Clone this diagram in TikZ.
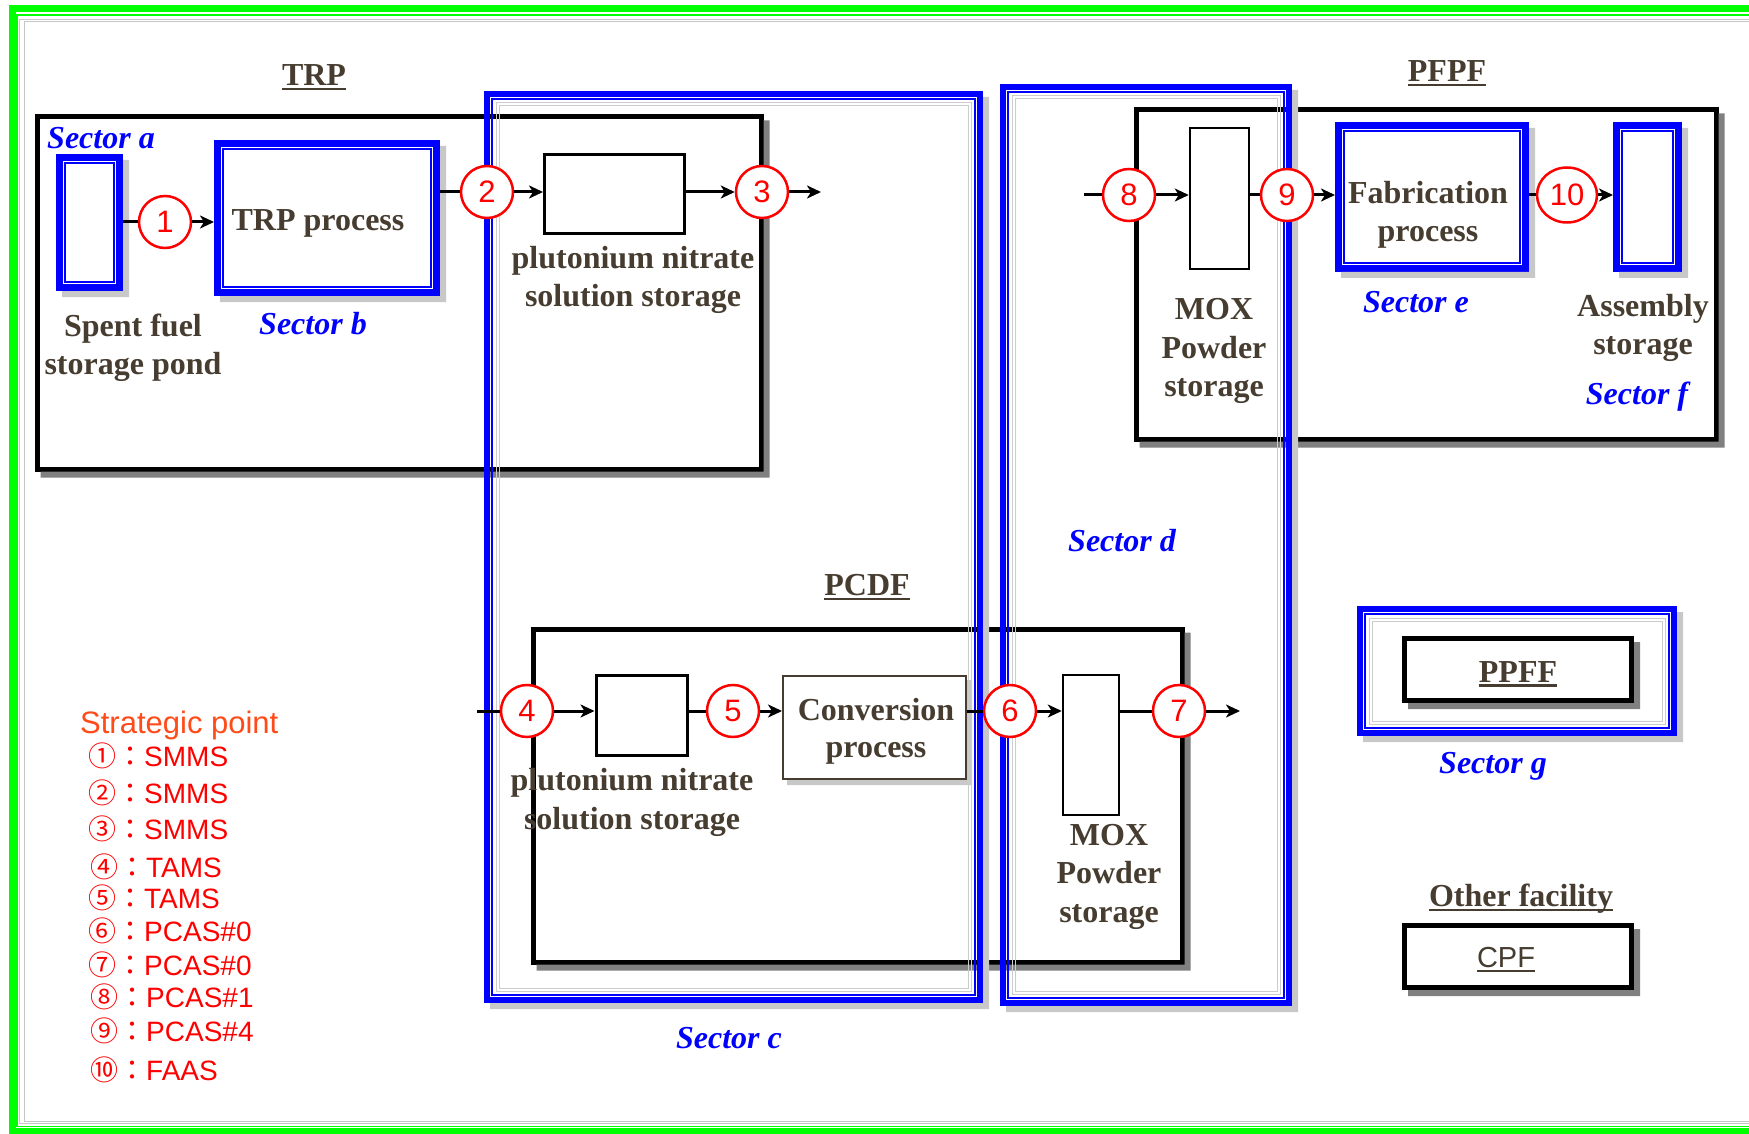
\documentclass[tikz,border=0pt]{standalone}
\usepackage{fontspec}
\setmainfont{Liberation Serif}
\newfontfamily\sansf{Liberation Sans}
\newfontfamily\cjk{Noto Sans CJK JP}
\usetikzlibrary{arrows.meta,shapes.geometric}
\definecolor{tbrown}{RGB}{70,60,48}
\definecolor{sblue}{RGB}{0,0,255}
\definecolor{fgreen}{RGB}{0,255,0}
\definecolor{sorange}{RGB}{255,75,25}
\definecolor{lred}{RGB}{255,0,0}
\definecolor{shdark}{RGB}{128,128,128}
\definecolor{shlight}{RGB}{200,200,200}
\newcommand{\ulx}[1]{\leavevmode\setbox0=\hbox{#1}\rlap{\rule[-0.15em]{\wd0}{0.075em}}\box0}
\newcommand{\shadowof}[3]{%
  \fill[#2] ([yshift=-#3]#1.north east) -- ([xshift=#3,yshift=-#3]#1.north east)
    -- ([xshift=#3,yshift=-#3]#1.south east) -- ([xshift=#3,yshift=-#3]#1.south west)
    -- ([xshift=#3]#1.south west) -- (#1.south east) -- cycle;}
\begin{document}
\begin{tikzpicture}[x=1pt,y=-1pt,
  every node/.style={inner sep=0pt},
  lab/.style={font=\fontsize{32}{38.5}\selectfont\bfseries, text=tbrown, align=center},
  sec/.style={font=\fontsize{32}{38}\selectfont\bfseries\itshape, text=sblue},
  blackbox/.style={draw=black, line width=5pt, fill=white},
  storebox/.style={draw=black, line width=2.5pt, fill=white},
  bluebox/.style={draw=sblue, line width=7pt, fill=white,
    path picture={\draw[sblue,line width=1.8pt]
      ([xshift=5.5pt,yshift=-5.5pt]path picture bounding box.north west) rectangle
      ([xshift=-5.5pt,yshift=5.5pt]path picture bounding box.south east);}},
  sectorframe/.style={draw=sblue, line width=6pt,
    path picture={
      \draw[sblue,line width=1.6pt]
        ([xshift=5pt,yshift=-5pt]path picture bounding box.north west) rectangle
        ([xshift=-5pt,yshift=5pt]path picture bounding box.south east);
      \draw[gray!40,line width=1pt]
        ([xshift=9pt,yshift=-9pt]path picture bounding box.north west) rectangle
        ([xshift=-9pt,yshift=9pt]path picture bounding box.south east);
      \draw[gray!40,line width=1pt]
        ([xshift=12pt,yshift=-12pt]path picture bounding box.north west) rectangle
        ([xshift=-12pt,yshift=12pt]path picture bounding box.south east);}},
  spt/.style={circle, draw=lred, line width=2.5pt, fill=white, minimum size=52pt,
    font=\sansf\fontsize{31}{31}\selectfont, text=lred},
  flow/.style={draw=black, line width=3pt},
  arr/.style={flow, -{Stealth[length=14pt,width=13pt,inset=4pt]}},
  leg/.style={anchor=west, text=lred, font=\sansf\fontsize{28}{28}\selectfont}
]
\useasboundingbox (0,0) rectangle (1749,1134);
\fill[white] (0,0) rectangle (1749,1134);

% outer green frame
\begin{scope}
\clip (0,0) rectangle (1749,1134);
\draw[fgreen, line width=7pt] (12.5,8.5) rectangle (1775,1131.5);
\draw[fgreen, line width=1.5pt] (17,15) rectangle (1765,1126.5);
\draw[gray!45, line width=1pt] (19.5,19.5) rectangle (1765,1123);
\draw[gray!45, line width=1pt] (24.5,22) rectangle (1765,1121);
\end{scope}

% facility boxes
\node[blackbox, minimum width=724pt, minimum height=352pt] (trp) at (399,293) {};
\shadowof{trp}{shdark}{6pt}
\node[blackbox, minimum width=580pt, minimum height=329pt] (pfpf) at (1426,274.5) {};
\shadowof{pfpf}{shdark}{6pt}
\node[blackbox, minimum width=649pt, minimum height=333pt] (pcdf) at (857.5,795.5) {};
\shadowof{pcdf}{shdark}{6pt}

% inner boxes
\node[bluebox, minimum width=60pt, minimum height=130pt] (pond) at (89.5,222.5) {};
\shadowof{pond}{shlight}{6pt}
\node[bluebox, minimum width=219pt, minimum height=149pt] (trpp) at (327,218) {};
\shadowof{trpp}{shlight}{6pt}
\node[storebox, line width=3pt, minimum width=140pt, minimum height=79pt] (pl1) at (614.5,194) {};
\node[storebox, minimum width=59pt, minimum height=141pt] (mox1) at (1219.5,198.5) {};
\node[bluebox, minimum width=187pt, minimum height=143pt] (fab) at (1432,197) {};
\shadowof{fab}{shlight}{6pt}
\node[bluebox, minimum width=62pt, minimum height=143pt] (asm) at (1647.5,197) {};
\shadowof{asm}{shlight}{6pt}
\node[storebox, line width=3pt, minimum width=91pt, minimum height=80pt] (pl2) at (641.5,715) {};
\node[draw=tbrown, line width=2pt, fill=white, minimum width=183pt, minimum height=103pt] (conv) at (874.5,727.5) {};
\shadowof{conv}{shlight}{5pt}
\node[storebox, minimum width=56pt, minimum height=140pt] (mox2) at (1091,745) {};

% sector frames
\node[sectorframe, minimum width=493pt, minimum height=906pt] (secc) at (733.5,547) {};
\shadowof{secc}{shlight}{6pt}
\node[sectorframe, minimum width=286pt, minimum height=916pt] (secd) at (1146,545) {};
\shadowof{secd}{shlight}{6pt}
\node[sectorframe, fill=white, minimum width=314pt, minimum height=124pt] (secg) at (1517,671) {};
\shadowof{secg}{shlight}{6pt}
\node[blackbox, minimum width=227pt, minimum height=62pt, font=\fontsize{32}{38}\selectfont\bfseries, text=tbrown] (ppff) at (1518,669.5) {\raisebox{-4.5pt}[\height][\depth]{\ulx{PPFF}}};
\shadowof{ppff}{shdark}{6pt}
\node[blackbox, minimum width=227pt, minimum height=62pt, font=\sansf\fontsize{29}{29}\selectfont, text=tbrown] (cpf) at (1518,956.5) {\hspace*{-24pt}\raisebox{-3.5pt}[\height][\depth]{\ulx{CPF}}};
\shadowof{cpf}{shdark}{6pt}

% strategic points
\node[spt] (c1) at (165,222) {1};
\node[spt] (c2) at (487,192) {2};
\node[spt] (c3) at (762,192) {3};
\node[spt] (c8) at (1129,195) {8};
\node[spt] (c9) at (1287,195) {9};
\node[spt, ellipse, minimum width=60pt, minimum height=55pt] (c10) at (1567,195) {10};
\node[spt] (c4) at (527,711) {4};
\node[spt] (c5) at (733,711) {5};
\node[spt] (c6) at (1010,711) {6};
\node[spt] (c7) at (1179,711) {7};

% free ends
\coordinate (o3) at (821,192);
\coordinate (i8) at (1084,195);
\coordinate (i4) at (477,711);
\coordinate (o7) at (1240,711);

% connectors
\draw[flow] (pond.east |- c1) -- (c1);
\draw[arr] (c1) -- (trpp.west |- c1);
\draw[flow] (trpp.east |- c2) -- (c2);
\draw[arr] (c2) -- (pl1.west |- c2);
\draw[arr] (pl1.east |- c3) -- (c3);
\draw[arr] (c3) -- (o3);
\draw[flow] (i8) -- (c8);
\draw[arr] (c8) -- (mox1.west |- c8);
\draw[flow] (mox1.east |- c9) -- (c9);
\draw[arr] (c9) -- (fab.west |- c9);
\draw[flow] (fab.east |- c10) -- (c10);
\draw[arr] (c10) -- (asm.west |- c10);
\draw[flow] (i4) -- (c4);
\draw[arr] (c4) -- (pl2.west |- c4);
\draw[flow] (pl2.east |- c5) -- (c5);
\draw[arr] (c5) -- (conv.west |- c5);
\draw[flow] (conv.east |- c6) -- (c6);
\draw[arr] (c6) -- (mox2.west |- c6);
\draw[flow] (mox2.east |- c7) -- (c7);
\draw[arr] (c7) -- (o7);

% facility titles
\node[lab] (tTRP) at (314,77.5) {\ulx{TRP}};
\node[lab] (tPFPF) at (1447,73.5) {\ulx{PFPF}};
\node[lab] (tPCDF) at (867,587.5) {\ulx{PCDF}};
\node[lab] (tOther) at (1521,898.5) {\ulx{Other facility}};

% item labels
\node[lab] (lpond) at (133,348) {Spent fuel\\storage pond};
\node[lab] (ltrpp) at (318,223) {TRP process};
\node[lab] (lpl1) at (633,280) {plutonium nitrate\\solution storage};
\node[lab] (lpl2) at (632,802.5) {plutonium nitrate\\solution storage};
\node[lab, font=\fontsize{32}{37}\selectfont\bfseries] (lconv) at (876,731.5) {Conversion\\process};
\node[lab] (lmox1) at (1214,351) {MOX\\Powder\\storage};
\node[lab] (lmox2) at (1109,876.5) {MOX\\Powder\\storage};
\node[lab] (lfab) at (1428,215) {Fabrication\\process};
\node[lab] (lasm) at (1643,328) {Assembly\\storage};

% sector labels
\node[sec] (sa) at (101,138) {Sector a};
\node[sec] (sb) at (313,324) {Sector b};
\node[sec] (sc) at (729,1038) {Sector c};
\node[sec] (sd) at (1122,541) {Sector d};
\node[sec] (se) at (1416,302) {Sector e};
\node[sec] (sf) at (1637,397) {Sector f};
\node[sec] (sg) at (1493,766) {Sector g};

% legend
\node[leg, text=sorange, font=\sansf\fontsize{31}{31}\selectfont] (legt) at (80,725) {Strategic point};
\node[leg] (l1) at (88,756) {{\cjk ①：}SMMS};
\node[leg] (l2) at (88,793) {{\cjk ②：}SMMS};
\node[leg] (l3) at (88,829) {{\cjk ③：}SMMS};
\node[leg] (l4) at (90,867) {{\cjk ④：}TAMS};
\node[leg] (l5) at (88,898) {{\cjk ⑤：}TAMS};
\node[leg] (l6) at (88,931) {{\cjk ⑥：}PCAS\#0};
\node[leg] (l7) at (88,965) {{\cjk ⑦：}PCAS\#0};
\node[leg] (l8) at (90,997) {{\cjk ⑧：}PCAS\#1};
\node[leg] (l9) at (90,1031) {{\cjk ⑨：}PCAS\#4};
\node[leg] (l10) at (90,1070) {{\cjk ⑩：}FAAS};
\end{tikzpicture}
\end{document}
